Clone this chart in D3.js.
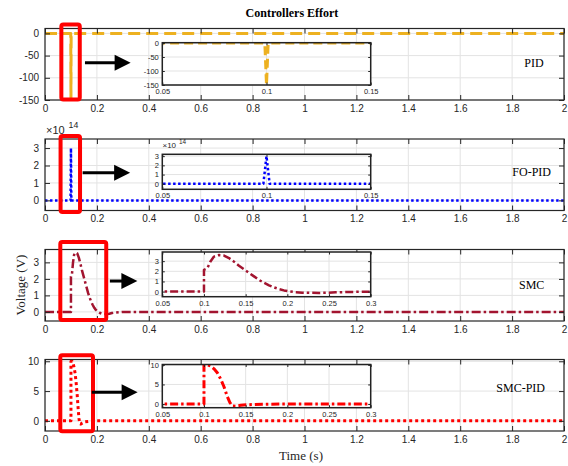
<!DOCTYPE html>
<html>
<head>
<meta charset="utf-8">
<script src="https://cdn.jsdelivr.net/npm/d3@7"></script>
<style>
  body { margin: 0; background: #fff; }
  svg { display: block; }
</style>
</head>
<body>
<div id="chart"></div>
<script>
// ---- data ----
const timeTicks = [0, 0.2, 0.4, 0.6, 0.8, 1, 1.2, 1.4, 1.6, 1.8, 2];
const zoomTicksShort = [0.05, 0.1, 0.15];
const zoomTicksLong = [0.05, 0.1, 0.15, 0.2, 0.25, 0.3];

const pidT = [0, 0.0992, 0.1, 0.1008, 2];
const pidU = [0, 0, -150, 0, 0];
const pidTicks = [0, -50, -100, -150];

const foT = [0, 0.0985, 0.1, 0.1015, 2];
const foU = [0, 0, 3e14, 0, 0];
const foTicks = [0, 1e14, 2e14, 3e14];

const smcT = [0, 0.1, 0.1, 0.104, 0.108, 0.112, 0.118, 0.124, 0.13, 0.136, 0.142, 0.148,
              0.154, 0.16, 0.166, 0.172, 0.178, 0.184, 0.19, 0.196, 0.202, 0.21, 0.218,
              0.228, 0.238, 0.248, 0.258, 0.27, 0.285, 0.3, 2];
const smcU = [0, 0, 2.15, 2.3, 3.0, 3.45, 3.6, 3.55, 3.3, 2.95, 2.55, 2.2,
              1.85, 1.5, 1.15, 0.87, 0.62, 0.42, 0.25, 0.12, 0.03, -0.05, -0.1,
              -0.12, -0.13, -0.11, -0.07, -0.04, -0.02, 0, 0];
const smcTicks = [0, 1, 2, 3];

const spT = [0, 0.1, 0.1, 0.104, 0.108, 0.112, 0.116, 0.12, 0.124, 0.128, 0.131, 0.134,
             0.138, 0.144, 0.152, 0.17, 0.2, 2];
const spU = [0, 0, 10, 10, 9.7, 9.0, 8.0, 6.4, 4.4, 1.9, 0.4, -0.5,
             -0.55, -0.35, -0.18, -0.08, 0, 0];
const spTicks = [0, 5, 10];

const names = ["PID", "FO-PID", "SMC", "SMC-PID"];

// ---- layout / styles ----
const W = 568, H = 466;
const axisColor = "#262626";
const gridColor = "#e3e3e3";
const sans = "'Liberation Sans', Arial, sans-serif";
const serif = "'Liberation Serif', 'Times New Roman', serif";

const panels = [
  { t: pidT, u: pidU, ticks: pidTicks, yDomain: [-150, 11], top: 28.5,
    color: "#EDB120", width: 3, dash: "12,6", zDash: "9,5", zWidth: 3,
    inset: { y0: 42.7, y1: 85, xDomain: [0.05, 0.15], xTicks: zoomTicksShort, yDomain: [-150, 1] },
    box: [0.063, 0.134, 20, -149], arrow: [0.154, 0.33, -66], label: [534, 63] },
  { t: foT, u: foU, ticks: foTicks, yDomain: [-0.58e14, 3.52e14], top: 139, exp: true,
    color: "#0000FF", width: 2.5, dash: "2.5,2.5", zDash: "2.5,2.5", zWidth: 2.5,
    inset: { y0: 154.3, y1: 189.3, xDomain: [0.05, 0.15], xTicks: zoomTicksShort, yDomain: [-0.6e14, 3.2e14] },
    box: [0.06, 0.135, 3.69e14, -0.67e14], arrow: [0.145, 0.328, 1.59e14], label: [531.7, 172] },
  { t: smcT, u: smcU, ticks: smcTicks, yDomain: [-0.55, 3.78], top: 249.5,
    color: "#A2142F", width: 2.5, dash: "9,3,2.5,3", zDash: "8,3,2.5,3", zWidth: 2.5,
    inset: { y0: 252, y1: 296.7, xDomain: [0.05, 0.3], xTicks: zoomTicksLong, yDomain: [-0.5, 3.9] },
    box: [0.059, 0.236, 4.23, -0.49], arrow: [0.25, 0.356, 1.87], label: [531.7, 285] },
  { t: spT, u: spU, ticks: spTicks, yDomain: [-1.7, 10.3], top: 359.5,
    color: "#FF0000", width: 3, dash: "3,3", zDash: "8,3,2.5,3", zWidth: 3,
    inset: { y0: 364.5, y1: 407.7, xDomain: [0.05, 0.3], xTicks: zoomTicksLong, yDomain: [-0.95, 10.1] },
    box: [0.059, 0.185, 11.0, -1.75], arrow: [0.18, 0.357, 4.8], label: [520.7, 388.3] }
];
const panelH = 71.5;
const insetX = [162.3, 370.7];

const svg = d3.select("#chart").append("svg")
    .attr("width", W).attr("height", H);

const x = d3.scaleLinear().domain([0, 2]).range([45, 564]);

let clipId = 0;
// draws one set of axes (main plot or zoom inset)
function drawAxes(g, xs, ys, xTicks, yTicks, opt) {
  const [x0, x1] = xs.range();
  const [y1, y0] = ys.range();
  const id = "clip" + (clipId++);
  g.append("clipPath").attr("id", id).append("rect")
      .attr("x", x0).attr("y", y0).attr("width", x1 - x0).attr("height", y1 - y0);

  g.append("rect").attr("x", x0).attr("y", y0)
      .attr("width", x1 - x0).attr("height", y1 - y0).attr("fill", "#fff");

  // grid
  g.append("g").selectAll("line.vx").data(xTicks).enter().append("line")
      .attr("x1", d => xs(d)).attr("x2", d => xs(d)).attr("y1", y0).attr("y2", y1)
      .attr("stroke", gridColor).attr("stroke-width", 1);
  g.append("g").selectAll("line.hy").data(yTicks).enter().append("line")
      .attr("y1", d => ys(d)).attr("y2", d => ys(d)).attr("x1", x0).attr("x2", x1)
      .attr("stroke", gridColor).attr("stroke-width", 1);

  // series
  const line = d3.line().x((d, i) => xs(opt.t[i])).y(d => ys(d));
  g.append("path").datum(opt.u)
      .attr("clip-path", `url(#${id})`)
      .attr("d", line)
      .attr("fill", "none")
      .attr("stroke", opt.color)
      .attr("stroke-width", opt.width)
      .attr("stroke-dasharray", opt.dash)
      .attr("stroke-linejoin", "round");

  const fmtY = opt.exp ? (d => String(d / 1e14)) : (d => String(d));
  const ts = opt.tick;

  const ax = g.append("g").attr("transform", `translate(0,${y1})`)
      .style("color", axisColor)
      .call(d3.axisBottom(xs).tickValues(xTicks).tickFormat(d => String(d))
            .tickSize(-ts).tickSizeOuter(0).tickPadding(opt.padX));
  ax.append("g");
  const at = g.append("g").attr("transform", `translate(0,${y0})`)
      .style("color", axisColor)
      .call(d3.axisTop(xs).tickValues(xTicks).tickFormat("").tickSize(-ts).tickSizeOuter(0));
  const ay = g.append("g").attr("transform", `translate(${x0},0)`)
      .style("color", axisColor)
      .call(d3.axisLeft(ys).tickValues(yTicks).tickFormat(fmtY)
            .tickSize(-ts).tickSizeOuter(0).tickPadding(opt.padY));
  const ar = g.append("g").attr("transform", `translate(${x1},0)`)
      .style("color", axisColor)
      .call(d3.axisRight(ys).tickValues(yTicks).tickFormat("").tickSize(-ts).tickSizeOuter(0));

  [ax, at, ay, ar].forEach(a => {
    a.select(".domain").remove();
    a.selectAll("text").style("font-family", sans).style("font-size", opt.font + "px");
    a.selectAll("line").attr("stroke-width", 1);
  });

  g.append("rect").attr("x", x0).attr("y", y0)
      .attr("width", x1 - x0).attr("height", y1 - y0)
      .attr("fill", "none").attr("stroke", opt.boxColor).attr("stroke-width", opt.boxWidth);
}

function expLabel(g, px, py, size) {
  const t = g.append("text").attr("x", px).attr("y", py)
      .style("font-family", sans).style("font-size", size + "px").attr("fill", axisColor);
  t.append("tspan").text("\u00d710");
  t.append("tspan").attr("dy", -size * 0.55).attr("dx", size * 0.35)
      .style("font-size", (size * 0.8) + "px").text("14");
}

panels.forEach((p, i) => {
  const g = svg.append("g");
  const y = d3.scaleLinear().domain(p.yDomain).range([p.top + panelH, p.top]);

  drawAxes(g, x, y, timeTicks, p.ticks, {
    t: p.t, u: p.u, color: p.color, width: p.width, dash: p.dash, exp: p.exp,
    tick: 5, padX: 4.5, padY: 6, font: 10, boxColor: axisColor, boxWidth: 1.2
  });
  if (p.exp) expLabel(g, 46, p.top - 5, 11);

  // zoom inset
  const zi = p.inset;
  const zx = d3.scaleLinear().domain(zi.xDomain).range(insetX);
  const zy = d3.scaleLinear().domain(zi.yDomain).range([zi.y1, zi.y0]);
  drawAxes(g, zx, zy, zi.xTicks, p.ticks, {
    t: p.t, u: p.u, color: p.color, width: p.zWidth, dash: p.zDash, exp: p.exp,
    tick: 2.5, padX: 3.5, padY: 3.5, font: 7.5, boxColor: "#222", boxWidth: 1.5
  });
  if (p.exp) expLabel(g, 162.5, zi.y0 - 6, 8);

  // red highlight box
  const b = p.box;
  g.append("rect")
      .attr("x", x(b[0])).attr("y", y(b[2]))
      .attr("width", x(b[1]) - x(b[0])).attr("height", y(b[3]) - y(b[2]))
      .attr("rx", 2)
      .attr("fill", "none").attr("stroke", "#FF0000").attr("stroke-width", 4);

  // arrow
  const a = p.arrow;
  const ax0 = x(a[0]), ax1 = x(a[1]), ay = y(a[2]);
  g.append("line").attr("x1", ax0).attr("x2", ax1 - 14).attr("y1", ay).attr("y2", ay)
      .attr("stroke", "#000").attr("stroke-width", 3);
  g.append("path")
      .attr("d", `M${ax1 - 16},${ay - 8}L${ax1},${ay}L${ax1 - 16},${ay + 8}Z`)
      .attr("fill", "#000");

  // controller name
  g.append("text").attr("x", p.label[0]).attr("y", p.label[1] + 4)
      .attr("text-anchor", "middle")
      .style("font-family", serif).style("font-size", "12px").attr("fill", "#000")
      .text(names[i]);
});

// titles
svg.append("text").attr("x", 292).attr("y", 17)
    .attr("text-anchor", "middle")
    .style("font-family", serif).style("font-size", "12px").style("font-weight", "bold")
    .text("Controllers Effort");

svg.append("text").attr("x", 301).attr("y", 460)
    .attr("text-anchor", "middle")
    .style("font-family", serif).style("font-size", "13px").attr("fill", "#262626")
    .text("Time (s)");

svg.append("text")
    .attr("transform", "translate(25,285) rotate(-90)")
    .attr("text-anchor", "middle")
    .style("font-family", serif).style("font-size", "13px").attr("fill", "#262626")
    .text("Voltage (V)");
</script>
</body>
</html>
